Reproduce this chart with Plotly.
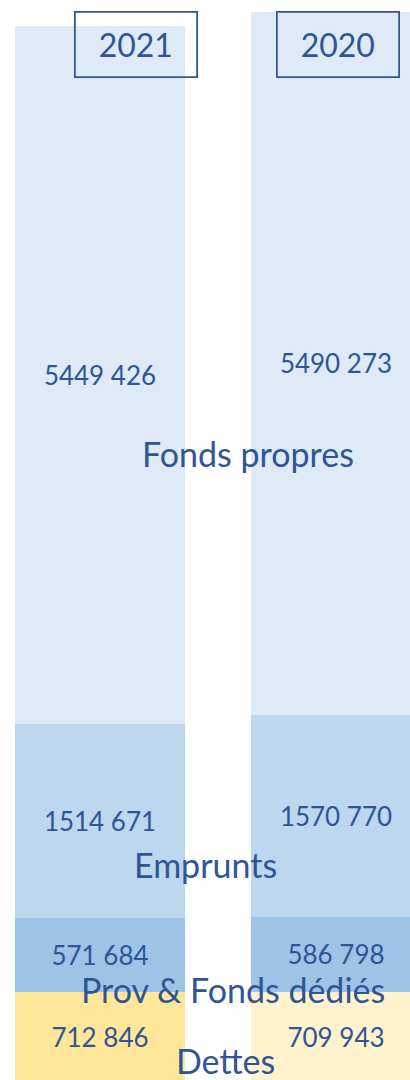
import plotly.graph_objects as go

years = ["2021", "2020"]
categories = ["Dettes", "Prov & Fonds dédiés", "Emprunts", "Fonds propres"]
dettes = [712846, 709943]
prov = [571684, 586798]
emprunts = [1514671, 1570770]
fonds = [5449426, 5490273]

TXT = "#2F5597"
FONT = "Lato"
xpos = [0, 1]


def fmt(v):
    return f"{v // 1000} {v % 1000:03d}"


series = [
    (categories[0], dettes, ["#FFE699", "#FFF2CC"]),
    (categories[1], prov, ["#9DC3E6", "#9DC3E6"]),
    (categories[2], emprunts, ["#BDD7EE", "#BDD7EE"]),
    (categories[3], fonds, ["#DEEBF7", "#DEEBF7"]),
]

fig = go.Figure()
for name, vals, cols in series:
    fig.add_trace(go.Bar(
        x=xpos, y=vals, name=name, width=0.72,
        marker=dict(color=cols, line=dict(width=0)),
        text=[fmt(v) for v in vals], textposition="inside",
        insidetextanchor="middle", textangle=0, constraintext="none",
        textfont=dict(family=FONT, size=26, color=TXT),
        hoverinfo="skip",
    ))

# series name labels
label_pos = {
    "Fonds propres": (0.604, 0.580),
    "Emprunts": (0.500, 0.200),
    "Prov & Fonds dédiés": (0.568, 0.0835),
    "Dettes": (0.549, 0.0185),
}
for name, (px, py) in label_pos.items():
    fig.add_annotation(text=name, x=px, y=py, xref="paper", yref="paper",
                       showarrow=False, xanchor="center", yanchor="middle",
                       font=dict(family=FONT, size=34, color=TXT))

# year boxes
year_pos = [0.3317, 0.8244]
for yr, px in zip(years, year_pos):
    fig.add_annotation(text=yr, x=px, y=0.9585, xref="paper", yref="paper",
                       showarrow=False, xanchor="center", yanchor="middle",
                       width=120, height=63, borderpad=0, borderwidth=1.75,
                       bordercolor=TXT, bgcolor="rgba(0,0,0,0)",
                       font=dict(family=FONT, size=32, color=TXT))

fig.update_layout(
    width=410, height=1080, margin=dict(l=0, r=0, t=0, b=0),
    barmode="stack", showlegend=False,
    plot_bgcolor="white", paper_bgcolor="white",
    xaxis=dict(range=[-0.4237, 1.3136], visible=False, fixedrange=True),
    yaxis=dict(range=[23400, 8447700], visible=False, fixedrange=True),
)
fig.write_html("out.html", config={"displayModeBar": False})

with open("out.html", encoding="utf-8") as f:
    html = f.read()
html = html.replace("<head>", "<head><style>html,body{margin:0;padding:0;overflow:hidden}</style>", 1)
with open("out.html", "w", encoding="utf-8") as f:
    f.write(html)
